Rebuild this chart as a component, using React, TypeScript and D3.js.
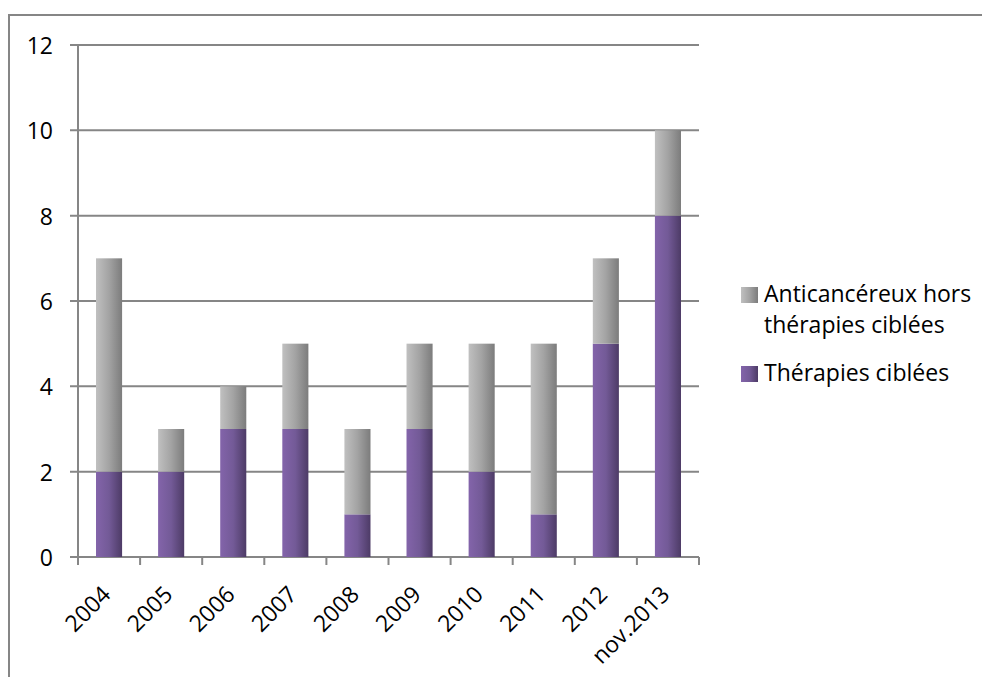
import React from "react";
import * as d3 from "d3";

const categories = ["2004", "2005", "2006", "2007", "2008", "2009", "2010", "2011", "2012", "nov.2013"];
const therapiesCiblees = [2, 2, 3, 3, 1, 3, 2, 1, 5, 8];
const horsTherapies = [5, 1, 1, 2, 2, 2, 3, 4, 2, 2];
const yTicks = [0, 2, 4, 6, 8, 10, 12];
const legendLines = ["Anticancéreux hors", "thérapies ciblées", "Thérapies ciblées"];

const W = 982;
const H = 677;
const FONT = "'Open Sans', sans-serif";
const GRID = "#868686";

export default function App() {
  const x = d3.scaleBand<string>().domain(categories).range([78, 699]).paddingInner(0.58).paddingOuter(0.29);
  const y = d3.scaleLinear().domain([0, 12]).range([557, 45]);
  const step = x.step();
  const edges = d3.range(categories.length + 1).map((i) => 78 + i * step);

  const stack = d3.stack<number>().keys(["t", "h"]).value((i, k) => (k === "t" ? therapiesCiblees[i] : horsTherapies[i]));
  const stacked = stack(d3.range(categories.length));

  return (
    <svg width={W} height={H} style={{ position: "absolute", left: 0, top: 0, background: "#fff" }} fontFamily={FONT}>
      <defs>
        <linearGradient id="gPurple" x1="0" x2="1" y1="0" y2="0">
          <stop offset="0" stopColor="#8364AA" />
          <stop offset="0.5" stopColor="#735A97" />
          <stop offset="1" stopColor="#4D3B66" />
        </linearGradient>
        <linearGradient id="gGray" x1="0" x2="1" y1="0" y2="0">
          <stop offset="0" stopColor="#C0C0C0" />
          <stop offset="0.5" stopColor="#A3A3A3" />
          <stop offset="1" stopColor="#7C7C7C" />
        </linearGradient>
      </defs>
      {/* outer border */}
      <line x1={9} x2={W} y1={15} y2={15} stroke={GRID} strokeWidth={2} />
      <line x1={9} x2={9} y1={14} y2={H} stroke={GRID} strokeWidth={2} />

      {/* gridlines + y ticks */}
      {yTicks.map((t) => (
        <g key={t}>
          <line x1={70} x2={699} y1={y(t)} y2={y(t)} stroke={GRID} strokeWidth={2} />
          <text x={53} y={y(t)} textAnchor="end" dominantBaseline="central" fontSize={23} fill="#000">
            {t}
          </text>
        </g>
      ))}
      {/* y axis */}
      <line x1={78} x2={78} y1={y(12)} y2={y(0)} stroke={GRID} strokeWidth={2} />
      {/* x ticks */}
      {edges.map((e, i) => (
        <line key={i} x1={e} x2={e} y1={557} y2={565} stroke={GRID} strokeWidth={2} />
      ))}

      {/* bars */}
      {stacked.map((s, si) =>
        s.map((d, i) => (
          <rect
            key={si + "-" + i}
            x={x(categories[i])}
            width={x.bandwidth()}
            y={y(d[1])}
            height={y(d[0]) - y(d[1])}
            fill={si === 0 ? "url(#gPurple)" : "url(#gGray)"}
          />
        ))
      )}

      {/* x labels */}
      {categories.map((c) => {
        const cx = (x(c) as number) + x.bandwidth() / 2 + 3;
        return (
          <text key={c} transform={`translate(${cx},596) rotate(-45)`} textAnchor="end" fontSize={23} fill="#000">
            {c}
          </text>
        );
      })}

      {/* legend */}
      <rect x={741} y={287} width={17} height={16} fill="url(#gGray)" />
      <text x={764} y={302} fontSize={23} fill="#000">{legendLines[0]}</text>
      <text x={764} y={333} fontSize={23} fill="#000">{legendLines[1]}</text>
      <rect x={741} y={366} width={17} height={16} fill="url(#gPurple)" />
      <text x={764} y={381} fontSize={23} fill="#000">{legendLines[2]}</text>
    </svg>
  );
}
